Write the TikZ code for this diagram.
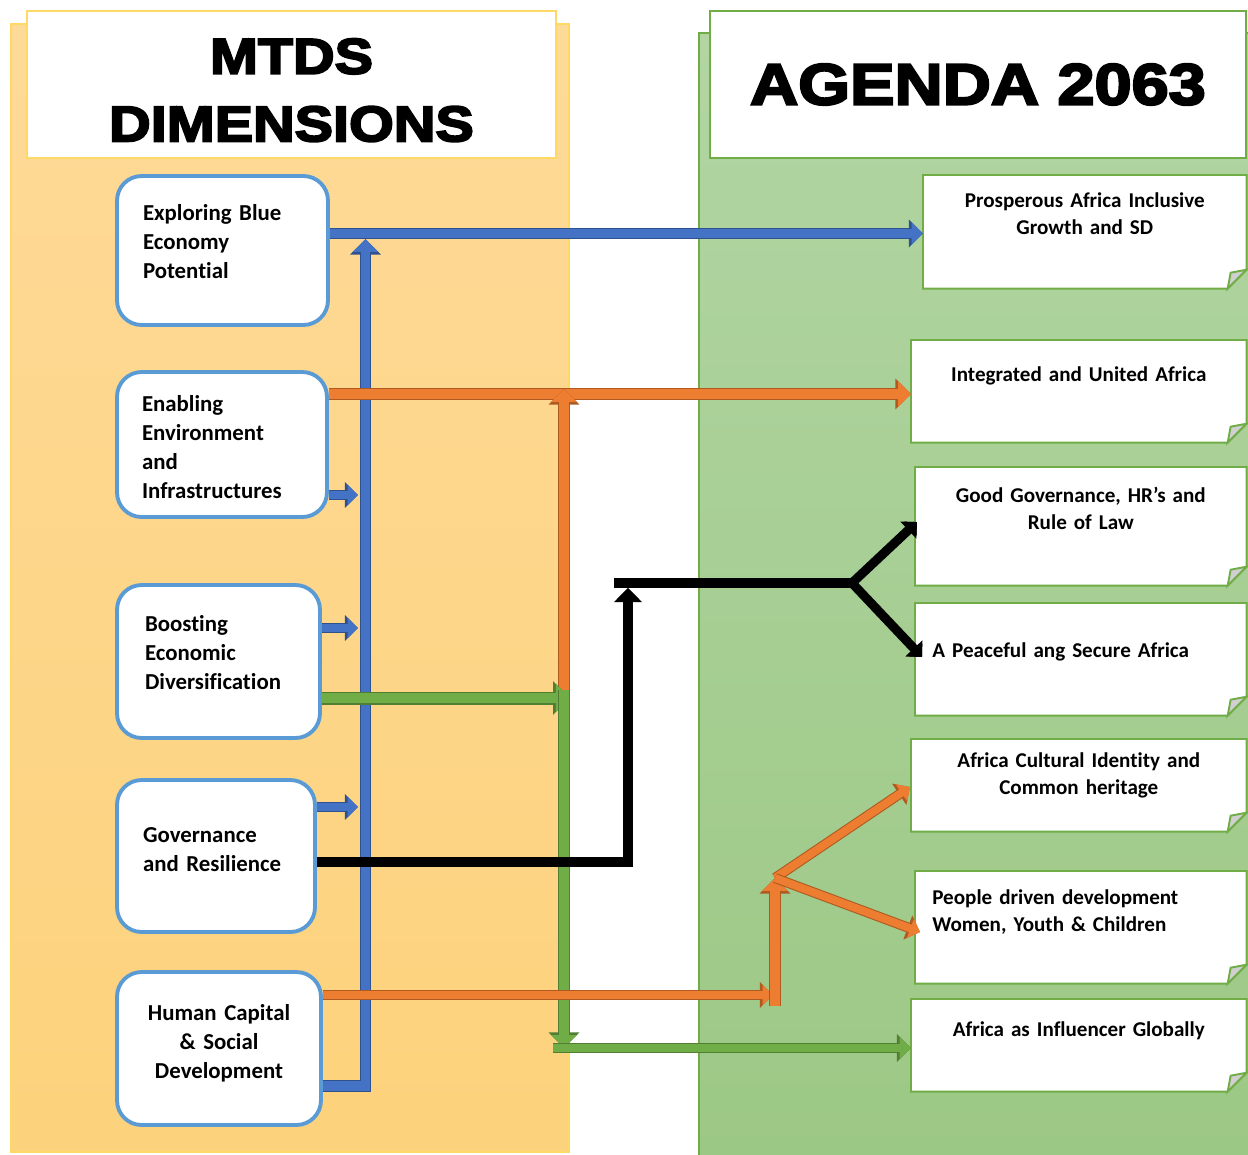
\documentclass[tikz,border=0pt]{standalone}
\usepackage{fontspec}
\setmainfont[Ligatures={TeX,NoCommon}]{Carlito}
\newfontfamily\headfont[FakeBold=4,FakeStretch=1.15]{Liberation Sans Bold}
\usetikzlibrary{arrows.meta,backgrounds}

\definecolor{PanelOrangeTop}{HTML}{FEDA98}
\definecolor{PanelOrangeBot}{HTML}{FDD27C}
\definecolor{PanelOrangeEdge}{HTML}{FFD966}
\definecolor{PanelGreenTop}{HTML}{B2D5A3}
\definecolor{PanelGreenBot}{HTML}{9CC885}
\definecolor{GoalEdge}{HTML}{70AD47}
\definecolor{DimEdge}{HTML}{5B9BD5}
\definecolor{FoldGray}{HTML}{D0D0D0}
\definecolor{BlueFill}{HTML}{4472C4}
\definecolor{BlueEdge}{HTML}{2F528F}
\definecolor{OrangeFill}{HTML}{ED7D31}
\definecolor{OrangeEdge}{HTML}{AE5A21}
\definecolor{GreenFill}{HTML}{70AD47}
\definecolor{GreenEdge}{HTML}{507E32}

\tikzset{
  tube/.style n args={3}{draw=#1, line width=#3, preaction={draw=#2, line width=#3+1.2pt}},
  bluetube/.style={tube={BlueFill}{BlueEdge}{#1}},
  orangetube/.style={tube={OrangeFill}{OrangeEdge}{#1}},
  greentube/.style={tube={GreenFill}{GreenEdge}{#1}},
  blacktube/.style={tube={black}{black}{#1}},
  headed/.style={-{Triangle[length=0pt 1.3, width=0pt 2.5]}},
  titlebox/.style={fill=white, line width=0.9pt, minimum height=2.94cm, align=center},
  dimbox/.style={draw=DimEdge, line width=2.2pt, rounded corners=14pt, fill=white, inner sep=0pt,
    align=left, text height=0.32cm, font=\bfseries\fontsize{13}{16.5}\selectfont},
  goal/.style={anchor=north west, inner xsep=0.34cm, inner ysep=0pt, align=center,
    font=\bfseries\fontsize{12}{15.3}\selectfont},
  goalline/.style={draw=GoalEdge, line width=1.1pt, fill=white}
}

\begin{document}
\begin{tikzpicture}[x=0.02cm, y=-0.02cm]
  \useasboundingbox (0,0) rectangle (1248,1154);

  % the two panels
  \begin{scope}[on background layer]
    \draw[PanelOrangeEdge, line width=0.8pt, top color=PanelOrangeTop, bottom color=PanelOrangeBot] (11,24) rectangle (569,1152);
    \draw[GoalEdge, line width=0.8pt, top color=PanelGreenTop, bottom color=PanelGreenBot] (699,33) rectangle (1256,1160);
  \end{scope}

  \node[titlebox, draw=PanelOrangeEdge, minimum width=10.58cm, text height=2.28cm, font=\headfont\fontsize{28.5}{38.5}\selectfont] (mtds) at (291.5,84.5) {MTDS\\DIMENSIONS};
  \node[titlebox, draw=GoalEdge, minimum width=10.72cm, font=\headfont\fontsize{33}{40}\selectfont] (agenda) at (978,84.5) {AGENDA 2063};

  % dimensions
  \node[dimbox, minimum width=4.22cm, minimum height=2.98cm, text width=3.18cm, text depth=1.52cm] (explore) at (222.5,250.5) {Exploring Blue\\Economy\\Potential};
  \node[dimbox, minimum width=4.2cm, minimum height=2.9cm, text width=3.2cm, text depth=1.63cm] (enable) at (222,444.5) {Enabling\\Environment\\and\\Infrastructures};
  \node[dimbox, minimum width=4.06cm, minimum height=3.06cm, text width=2.94cm, text depth=1.52cm] (boost) at (218.5,661.5) {Boosting\\Economic\\Diversification};
  \node[dimbox, minimum width=3.96cm, minimum height=3.04cm, text width=2.92cm, text depth=0.86cm] (govern) at (216,856) {Governance\\and Resilience};
  \node[dimbox, minimum width=4.08cm, minimum height=3.06cm, text width=3.1cm, text depth=1.44cm, align=center] (human) at (219,1048.5) {Human Capital\\\& Social\\Development};

  % aspirations
  \node[goal, text width=5.78cm, text height=0.64cm, text depth=1.62cm] (prosper) at (923,175) {Prosperous Africa Inclusive\\Growth and SD};
  \node[goal, text width=6.02cm, text height=0.82cm, text depth=1.22cm] (integ) at (911,340) {Integrated and United Africa};
  \node[goal, text width=5.94cm, text height=0.7cm, text depth=1.66cm] (goodgov) at (915,467) {Good Governance, HR’s and\\Rule of Law};
  \node[goal, text width=5.94cm, text height=1.08cm, text depth=1.16cm, align=left] (peace) at (915,603) {A Peaceful ang Secure Africa};
  \node[goal, text width=6.02cm, text height=0.56cm, text depth=1.28cm] (culture) at (911,739) {Africa Cultural Identity and\\Common heritage};
  \node[goal, text width=5.94cm, text height=0.66cm, text depth=1.58cm, align=left] (people) at (915,871) {People driven development\\Women, Youth \& Children};
  \node[goal, text width=6.02cm, text height=0.74cm, text depth=1.1cm] (influ) at (911,999) {Africa as Influencer Globally};

  % note cards with a folded corner
  \begin{scope}[on background layer]
    \foreach \g in {prosper,integ,goodgov,peace,culture,people,influ} {
      \filldraw[goalline] (\g.south west) -- (\g.north west) -- (\g.north east)
        -- ([yshift=0.38cm]\g.south east) -- ([xshift=-0.38cm]\g.south east) -- cycle;
      \filldraw[goalline, fill=FoldGray] ([yshift=0.38cm]\g.south east)
        -- ([xshift=-0.32cm,yshift=0.32cm]\g.south east) -- ([xshift=-0.38cm]\g.south east) -- cycle;
    }
  \end{scope}

  \coordinate (bluebar) at (365.5,233.5);
  \coordinate (bluetop) at (365.5,239);
  \coordinate (bluefoot) at (365.5,1086);
  \coordinate (b2) at (358,495);
  \coordinate (b3) at (358,628);
  \coordinate (b4) at (358,807);
  \coordinate (orangebar) at (564,394);
  \coordinate (orangetop) at (564,389);
  \coordinate (split) at (564,690);
  \coordinate (greenhead) at (570,698);
  \coordinate (greenbar) at (553,1048);
  \coordinate (blackfoot) at (628,862);
  \coordinate (blackup) at (628,588);
  \coordinate (blackleft) at (614,583);
  \coordinate (blackfork) at (852,583);
  \coordinate (toggov) at (917,522);
  \coordinate (topeace) at (922,657);
  \coordinate (orangelow) at (773,995);
  \coordinate (orangebase) at (775,1006);
  \coordinate (orangefork) at (775,878);
  \coordinate (toculture) at (910,787);
  \coordinate (topeople) at (920,932);

  % blue: every dimension feeds the first aspiration
  \draw[bluetube=5.6pt, headed] (human.east |- bluefoot) -- (bluefoot) -- (bluetop);
  \draw[bluetube=5pt, headed] (explore.east |- bluebar) -- (prosper.west |- bluebar);
  \foreach \src/\dst in {enable/b2, boost/b3, govern/b4}
    \draw[bluetube=4.5pt, headed] (\src.east |- \dst) -- (\dst);

  % orange: integration
  \draw[orangetube=5.6pt, headed] (enable.east |- orangebar) -- (integ.west |- orangebar);
  \draw[orangetube=5.6pt, headed] (split) -- (orangetop);

  % green: diversification
  \draw[greentube=6.2pt, headed] (boost.east |- greenhead) -- (greenhead);
  \draw[greentube=5.6pt, headed] (split) -- (split |- greenbar);
  \draw[greentube=5pt, headed] (greenbar) -- (influ.west |- greenbar);

  % black: governance
  \draw[blacktube=5pt, headed] (govern.east |- blackfoot) -- (blackfoot) -- (blackup);
  \draw[blacktube=4.5pt] (blackleft) -- (blackfork);
  \draw[blacktube=4pt, headed] (blackfork) -- (toggov);
  \draw[blacktube=4pt, headed] (blackfork) -- (topeace);

  % orange: human capital
  \draw[orangetube=4.5pt, headed] (human.east |- orangelow) -- (orangelow);
  \draw[orangetube=5.6pt, headed] (orangebase) -- (orangefork);
  \draw[orangetube=4.5pt, headed] (orangefork) -- (toculture);
  \draw[orangetube=4.5pt, headed] (orangefork) -- (topeople);
\end{tikzpicture}
\end{document}
